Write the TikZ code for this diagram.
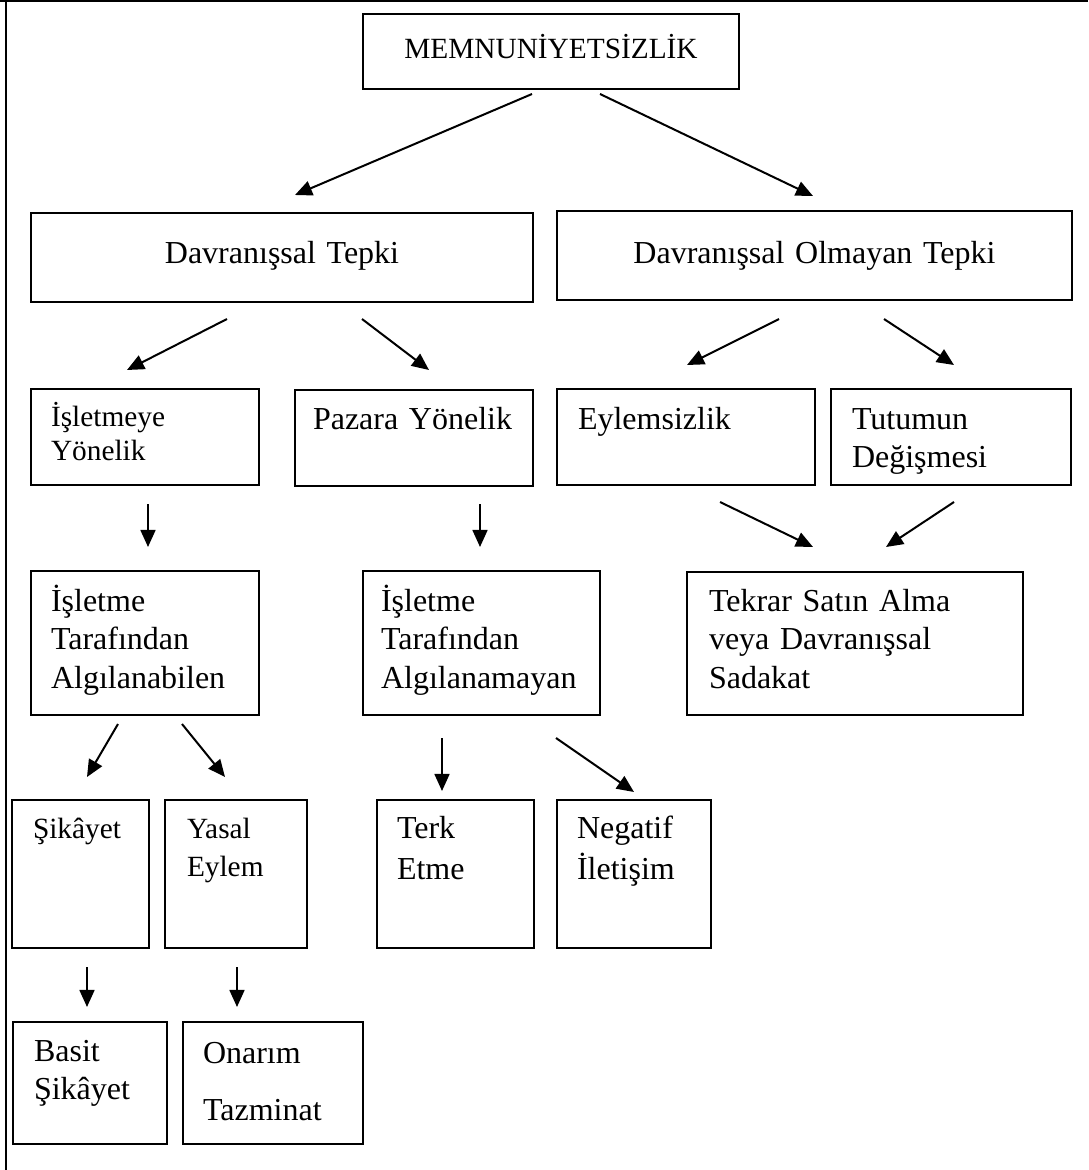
\documentclass[tikz,border=0pt]{standalone}
\usepackage{fontspec}
\setmainfont{Liberation Serif}
\usetikzlibrary{arrows.meta, calc}

\tikzset{
  kutu/.style={draw, line width=0.75pt, anchor=north west, inner ysep=0pt, align=left,
    font=\fontsize{12}{14.6}\selectfont},
  kucuk/.style={font=\fontsize{11}{13.1}\selectfont},
  ok/.style={-{Triangle[length=6.4pt, width=5.6pt]}, line width=0.75pt},
}

\begin{document}
\begin{tikzpicture}[x=0.375pt, y=-0.375pt]
  \useasboundingbox (0,0) rectangle (1088,1170);
  % frame
  \draw[line width=0.75pt] (0,1) -- (1088,1) (6,1) -- (6,1170);

  % level 1 and 2
  \node[kutu, kucuk, align=center, inner xsep=3.75pt, text width=133.5pt, text height=16.875pt, text depth=11.25pt] (mem) at (362,13) {MEMNUNİYETSİZLİK};
  \node[kutu, align=center, inner xsep=3.75pt, text width=180.75pt, text height=18.75pt, text depth=14.625pt] (dt) at (30,212) {Davranışsal Tepki};
  \node[kutu, align=center, inner xsep=3.75pt, text width=185.625pt, text height=19.5pt, text depth=13.875pt] (dot) at (556,210) {Davranışsal Olmayan Tepki};

  % level 3
  \node[kutu, kucuk, inner xsep=7.5pt, text width=70.5pt, text height=13.875pt, text depth=22.125pt] (iy) at (30,388) {İşletmeye\\Yönelik};
  \node[kutu, inner xsep=6.75pt, text width=75.75pt, text height=14.625pt, text depth=21.375pt] (py) at (294,389) {Pazara Yönelik};
  \node[kutu, inner xsep=7.875pt, text width=81pt, text height=15pt, text depth=21pt] (ey) at (556,388) {Eylemsizlik};
  \node[kutu, inner xsep=7.875pt, text width=74.25pt, text height=15pt, text depth=21pt] (td) at (830,388) {Tutumun\\Değişmesi};

  % level 4
  \node[kutu, inner xsep=7.5pt, text width=70.5pt, text height=15pt, text depth=39pt] (ita) at (30,570) {İşletme\\Tarafından\\Algılanabilen};
  \node[kutu, inner xsep=6.75pt, text width=75.375pt, text height=15pt, text depth=39pt] (itn) at (362,570) {İşletme\\Tarafından\\Algılanamayan};
  \node[kutu, inner xsep=8.25pt, text width=109.5pt, text height=14.625pt, text depth=39pt] (tsa) at (686,571) {Tekrar Satın Alma\\veya Davranışsal\\Sadakat};

  % level 5
  \node[kutu, kucuk, inner xsep=7.875pt, text width=35.625pt, text height=14.25pt, text depth=41.25pt] (sik) at (11,799) {Şikâyet};
  \node[kutu, font=\fontsize{11}{14.25}\selectfont, inner xsep=8.25pt, text width=36.75pt, text height=14.25pt, text depth=41.25pt] (yas) at (164,799) {Yasal\\Eylem};
  \node[kutu, font=\fontsize{12}{15.4}\selectfont, inner xsep=7.5pt, text width=43.875pt, text height=14.25pt, text depth=41.25pt] (terk) at (376,799) {Terk\\Etme};
  \node[kutu, font=\fontsize{12}{15.4}\selectfont, inner xsep=7.5pt, text width=42.75pt, text height=14.25pt, text depth=41.25pt] (neg) at (556,799) {Negatif\\İletişim};

  % level 6
  \node[kutu, inner xsep=7.875pt, text width=42pt, text height=14.625pt, text depth=31.125pt] (bas) at (12,1021) {Basit\\Şikâyet};
  \node[kutu, inner xsep=7.5pt, text width=52.5pt, text height=15.375pt, text depth=30.375pt] (ona) at (182,1021) {Onarım\\[7pt]Tazminat};

  % arrows
  \foreach \a/\ax/\ay/\b/\bx/\by in {
      mem/170/4/dt/265/-17, mem/238/4/dot/257/-14,
      dt/197/16/iy/97/-18, dt/332/16/py/135/-19,
      dot/223/18/ey/131/-23, dot/328/18/td/124/-23,
      iy/118/18/ita/118/-23, py/186/17/itn/118/-23,
      ey/164/16/tsa/127/-24, td/124/16/tsa/200/-24,
      ita/88/8/sik/76/-22, ita/152/8/yas/61/-22,
      itn/80/22/terk/66/-8, itn/194/22/neg/78/-7,
      sik/76/18/bas/75/-14, yas/73/18/ona/55/-14}
    \draw[ok] ($(\a.south west)+(\ax,\ay)$) -- ($(\b.north west)+(\bx,\by)$);
\end{tikzpicture}
\end{document}
